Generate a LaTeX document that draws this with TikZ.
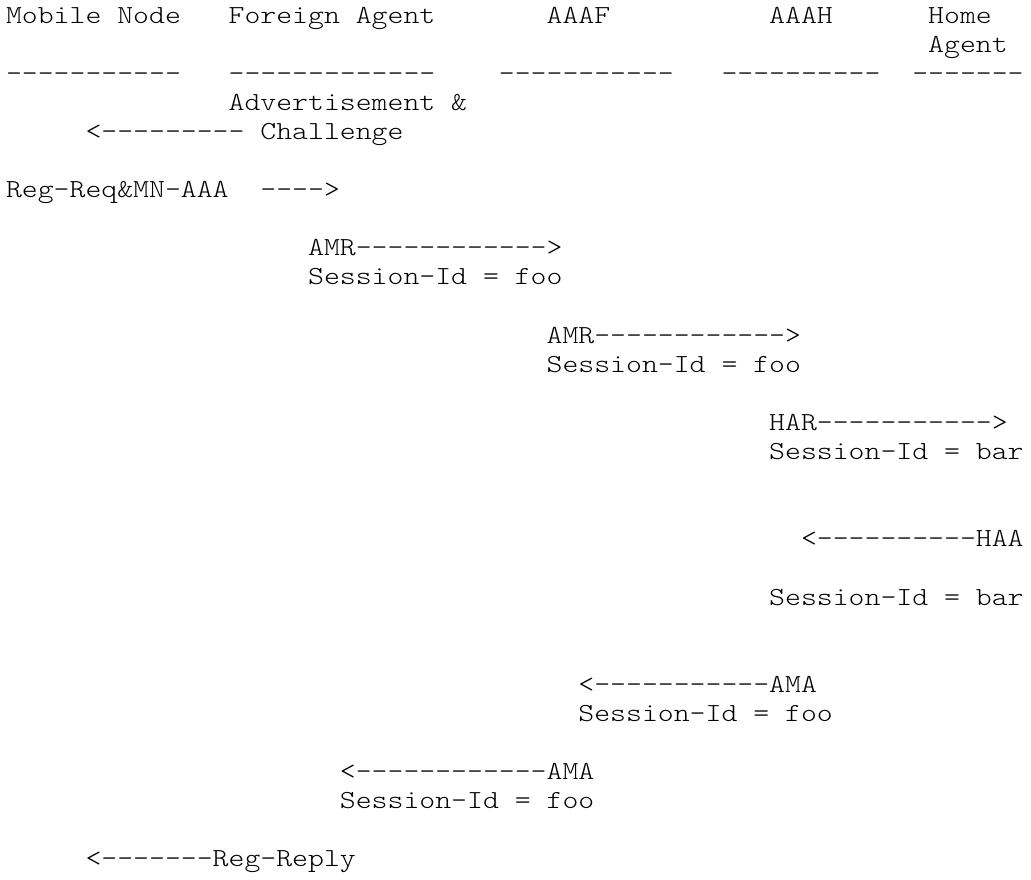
\documentclass[tikz,border=0pt]{standalone}
\usepackage{fontspec}
\setmonofont[FakeStretch=1.165]{lmmonolt10-regular.otf}
\begin{document}
\begin{tikzpicture}[
  txt/.style={anchor=base west, inner sep=0pt, outer sep=0pt,
    font=\ttfamily\fontsize{26}{29.1}\selectfont, text=black},
  x=15.9pt, y=-29.1pt]
\useasboundingbox (0pt,0pt) rectangle (1031pt,-879pt);
\begin{scope}[shift={(6pt,-23pt)}]
% header
\node[txt] (mn)   at (0,0)  {Mobile Node};
\node[txt] (fa)   at (14,0) {Foreign Agent};
\node[txt] (aaaf) at (34,0) {AAAF};
\node[txt] (aaah) at (48,0) {AAAH};
\node[txt] (ha)   at (58,0) {Home};
\node[txt] (haag) at (58,1) {Agent};
% rules
\node[txt] (rule1) at (0,2)  {-----------};
\node[txt] (rule2) at (14,2) {-------------};
\node[txt] (rule3) at (31,2) {-----------};
\node[txt] (rule4) at (45,2) {----------};
\node[txt] (rule5) at (57,2) {-------};
% messages
\node[txt] (adv)    at (14,3) {Advertisement \&};
\node[txt] (chal)   at (5,4)  {<--------- Challenge};
\node[txt] (regreq) at (0,6)  {Reg-Req\&MN-AAA};
\node[txt] (regarr) at (16,6) {---->};
\node[txt] (amr1)   at (19,8) {AMR------------>};
\node[txt] (sid1)   at (19,9) {Session-Id = foo};
\node[txt] (amr2)   at (34,11) {AMR------------>};
\node[txt] (sid2)   at (34,12) {Session-Id = foo};
\node[txt] (har)    at (48,14) {HAR----------->};
\node[txt] (sid3)   at (48,15) {Session-Id = bar};
\node[txt] (haa)    at (50,18) {<----------HAA};
\node[txt] (sid4)   at (48,20) {Session-Id = bar};
\node[txt] (ama1)   at (36,23) {<-----------AMA};
\node[txt] (sid5)   at (36,24) {Session-Id = foo};
\node[txt] (ama2)   at (21,26) {<------------AMA};
\node[txt] (sid6)   at (21,27) {Session-Id = foo};
\node[txt] (regrep) at (5,29)  {<-------Reg-Reply};
\end{scope}
\end{tikzpicture}
\end{document}
